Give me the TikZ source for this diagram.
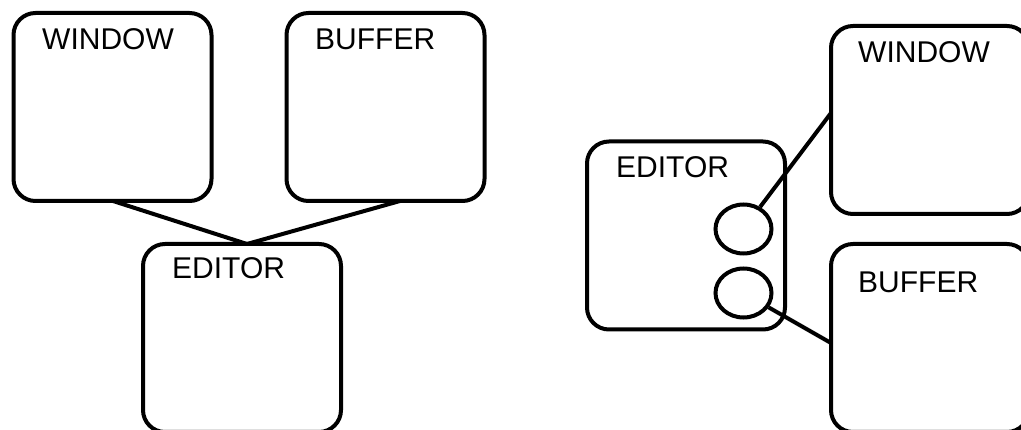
\documentclass[tikz,border=0pt]{standalone}
\usepackage{fontspec}
\setmainfont{Liberation Sans}
\usetikzlibrary{shapes.geometric,calc}
\begin{document}
\begin{tikzpicture}[x=1pt,y=-1pt,
  box/.style={draw,line width=4pt,rounded corners=22pt,minimum width=198pt,minimum height=188pt,inner sep=0pt,outer sep=0pt},
  port/.style={draw,ellipse,line width=4pt,minimum width=56pt,minimum height=49pt,inner sep=0pt},
  lbl/.style={anchor=base west,inner sep=0pt,font=\fontsize{30}{36}\selectfont},
  link/.style={line width=4pt}]
\useasboundingbox (0,0) rectangle (1021,430);
\clip (0,0) rectangle (1021,430);
% left diagram
\node[box] (w1) at (112.5,107) {};
\node[box] (b1) at (385.5,107) {};
\node[box] (e1) at (242,338) {};
\node[lbl] (tw1) at (42,50) {WINDOW};
\node[lbl] (tb1) at (315,50) {BUFFER};
\node[lbl] (te1) at (172,279) {EDITOR};
\coordinate (j) at ($(e1.north)+(5,0)$);
\draw[link] ($(w1.south)+(0.5,0)$) -- (j);
\draw[link] ($(b1.south)+(14.5,0)$) -- (j);
% right diagram
\node[box] (e2) at (686,235.5) {};
\node[box] (w2) at (930,120) {};
\node[box] (b2) at (930,338) {};
\node[port] (c1) at (743.5,229) {};
\node[port] (c2) at (743.5,293) {};
\node[lbl] (te2) at (616,178) {EDITOR};
\node[lbl] (tw2) at (858,63) {WINDOW};
\node[lbl] (tb2) at (858,293) {BUFFER};
\draw[link] (c1) -- ($(w2.west)+(0,-7)$);
\draw[link] (c2) -- ($(b2.west)+(0,5)$);
\end{tikzpicture}
\end{document}
